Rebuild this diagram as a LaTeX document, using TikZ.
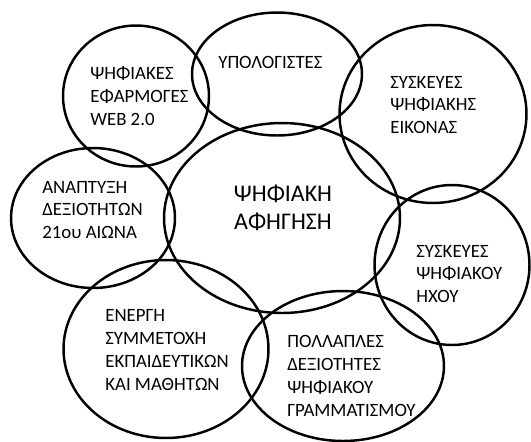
\documentclass[tikz,border=0pt]{standalone}
\usepackage{fontspec}
\setmainfont{Carlito}
\usepackage{tikz}
\usetikzlibrary{shapes.geometric}

\begin{document}
\begin{tikzpicture}[x=0.02cm, y=-0.02cm,
    bubble/.style={ellipse, draw, line width=1.4pt, inner sep=0pt},
    label/.style={anchor=west, align=left, inner sep=0pt, font=\fontsize{10.7}{13}\selectfont}]
  \useasboundingbox (0,0) rectangle (531,441);
  \node[bubble, minimum width=2.92cm, minimum height=2.82cm] (web) at (136,96) {};
  \node[bubble, minimum width=3.40cm, minimum height=2.46cm] (pc) at (277,74) {};
  \node[bubble, minimum width=3.74cm, minimum height=3.56cm] (image) at (433,114) {};
  \node[bubble, minimum width=4.72cm, minimum height=3.80cm] (story) at (282,218) {};
  \node[bubble, minimum width=3.28cm, minimum height=2.80cm] (skills) at (93,218) {};
  \node[bubble, minimum width=4.10cm, minimum height=3.56cm] (active) at (166,349) {};
  \node[bubble, minimum width=4.04cm, minimum height=3.00cm] (literacy) at (343,366) {};
  \node[bubble, minimum width=3.10cm, minimum height=3.20cm] (sound) at (452,265) {};
  \node[label] (webtext) at (90,96) {ΨΗΦΙΑΚΕΣ\\ΕΦΑΡΜΟΓΕΣ\\WEB 2.0};
  \node[label] (pctext) at (218,62) {ΥΠΟΛΟΓΙΣΤΕΣ};
  \node[label] (imagetext) at (390,105) {ΣΥΣΚΕΥΕΣ\\ΨΗΦΙΑΚΗΣ\\ΕΙΚΟΝΑΣ};
  \node[align=center, inner sep=0pt, font=\fontsize{13.6}{16}\selectfont] (storytext) at (283,208) {ΨΗΦΙΑΚΗ\\ΑΦΗΓΗΣΗ};
  \node[label] (skillstext) at (42,210) {ΑΝΑΠΤΥΞΗ\\ΔΕΞΙΟΤΗΤΩΝ\\21ου ΑΙΩΝΑ};
  \node[label] (activetext) at (105,350) {ΕΝΕΡΓΗ\\ΣΥΜΜΕΤΟΧΗ\\ΕΚΠΑΙΔΕΥΤΙΚΩΝ\\ΚΑΙ ΜΑΘΗΤΩΝ};
  \node[label] (literacytext) at (287,376) {ΠΟΛΛΑΠΛΕΣ\\ΔΕΞΙΟΤΗΤΕΣ\\ΨΗΦΙΑΚΟΥ\\ΓΡΑΜΜΑΤΙΣΜΟΥ};
  \node[label] (soundtext) at (416,274) {ΣΥΣΚΕΥΕΣ\\ΨΗΦΙΑΚΟΥ\\ΗΧΟΥ};
\end{tikzpicture}
\end{document}
